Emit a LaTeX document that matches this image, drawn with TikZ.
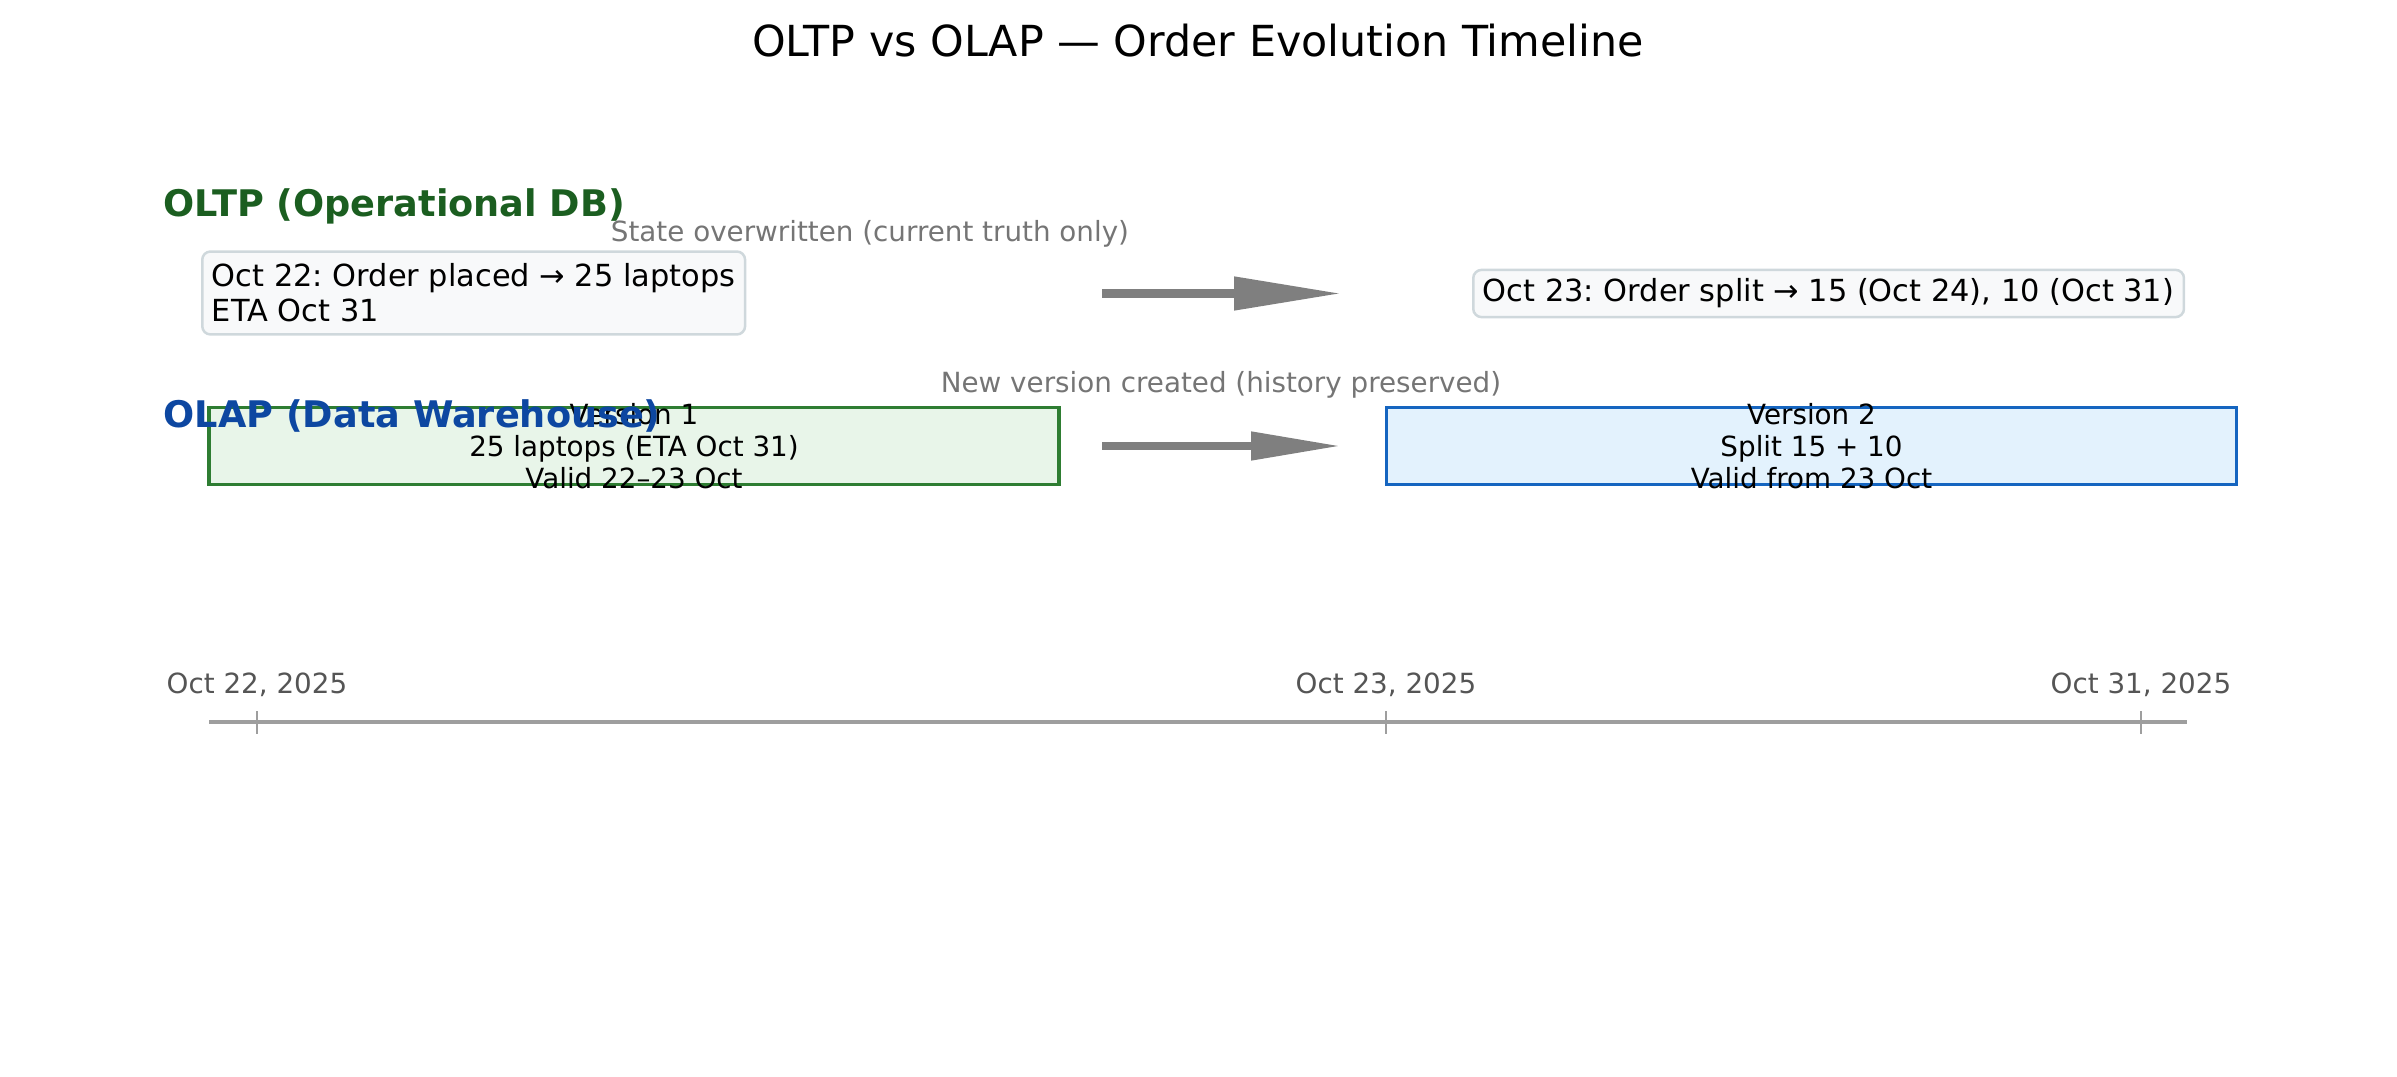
\documentclass[tikz,border=0pt]{standalone}
\usepackage{fontspec}
\setmainfont{DejaVu Sans}
\usetikzlibrary{positioning, arrows.meta}
\definecolor{oltpgreen}{HTML}{1B5E20}
\definecolor{olapblue}{HTML}{0D47A1}
\definecolor{notegray}{HTML}{757575}
\definecolor{arrowgray}{HTML}{7F7F7F}
\definecolor{statefill}{HTML}{F8F9FA}
\definecolor{statestroke}{HTML}{CFD8DC}
\definecolor{vonefill}{HTML}{E8F5E9}
\definecolor{vonestroke}{HTML}{2E7D32}
\definecolor{vtwofill}{HTML}{E3F2FD}
\definecolor{vtwostroke}{HTML}{1565C0}
\definecolor{axisgray}{HTML}{9E9E9E}
\definecolor{datetext}{HTML}{555555}
\frenchspacing

\begin{document}
\begin{tikzpicture}[
  x=0.36pt, y=-0.36pt,
  every node/.style={font=\fontsize{10}{12}\selectfont, inner sep=0pt},
  heading/.style={font=\fontsize{13.2}{15}\selectfont\bfseries, anchor=base west},
  note/.style={text=notegray, anchor=base},
  statebox/.style={
    draw=statestroke, line width=0.9pt, fill=statefill,
    rounded corners=3pt, inner xsep=3.5pt, inner ysep=3.2pt, anchor=west,
    align=left, font=\fontsize{10.95}{12.6}\selectfont
  },
  versionbox/.style={
    line width=1.1pt, minimum width=306pt, minimum height=28pt,
    inner ysep=-2.5pt, align=center, font=\fontsize{10}{11.4}\selectfont
  },
  bigarrow/.style={draw=arrowgray, line width=2.9pt},
  datelabel/.style={text=datetext, anchor=base}
]
\useasboundingbox (0,0) rectangle (2397,1077);

\node[font=\fontsize{15.4}{18}\selectfont, anchor=base] (title) at (1198,57)
  {OLTP vs OLAP — Order Evolution Timeline};

% operational side
\node[heading, text=oltpgreen] (oltp) at (163,217) {OLTP (Operational DB)};
\node[note] (overwrite) at (870,242) {State overwritten (current truth only)};
\node[statebox, inner ysep=4.4pt] (placed) at (201,293) {Oct 22: Order placed → 25 laptops\\ETA Oct 31};
\node[statebox] (split) at (1472,293.5) {Oct 23: Order split → 15 (Oct 24), 10 (Oct 31)};

\coordinate (oltp tail) at (1102,293.5);
\coordinate (oltp tip) at (1341,293.5);
\draw[bigarrow, -{Triangle[length=38.5pt, width=11.5pt]}] (oltp tail) -- (oltp tip);

% warehouse side
\node[versionbox, draw=vonestroke, fill=vonefill] (vone) at (634,446)
  {Version 1\\25 laptops (ETA Oct 31)\\Valid 22–23 Oct};
\node[versionbox, draw=vtwostroke, fill=vtwofill] (vtwo) at (1811.5,446)
  {Version 2\\Split 15 + 10\\Valid from 23 Oct};
\node[heading, text=olapblue] (olap) at (163,428) {OLAP (Data Warehouse)};
\node[note] (newversion) at (1221,393) {New version created (history preserved)};

\coordinate (olap tail) at (1102,446);
\coordinate (olap tip) at (1341,446);
\draw[bigarrow, -{Triangle[length=32.4pt, width=9.7pt]}] (olap tail) -- (olap tip);

% timeline
\coordinate (axis start) at (209,722);
\coordinate (axis end) at (2187,722);
\draw[axisgray, line width=1.1pt] (axis start) -- (axis end);
\foreach \tx/\tdate [count=\i] in {257/{Oct 22, 2025}, 1386/{Oct 23, 2025}, 2141/{Oct 31, 2025}} {
  \draw[axisgray, line width=0.5pt] (\tx,711) -- (\tx,734);
  \node[datelabel] (date\i) at (\tx,693) {\tdate};
}

\end{tikzpicture}
\end{document}
